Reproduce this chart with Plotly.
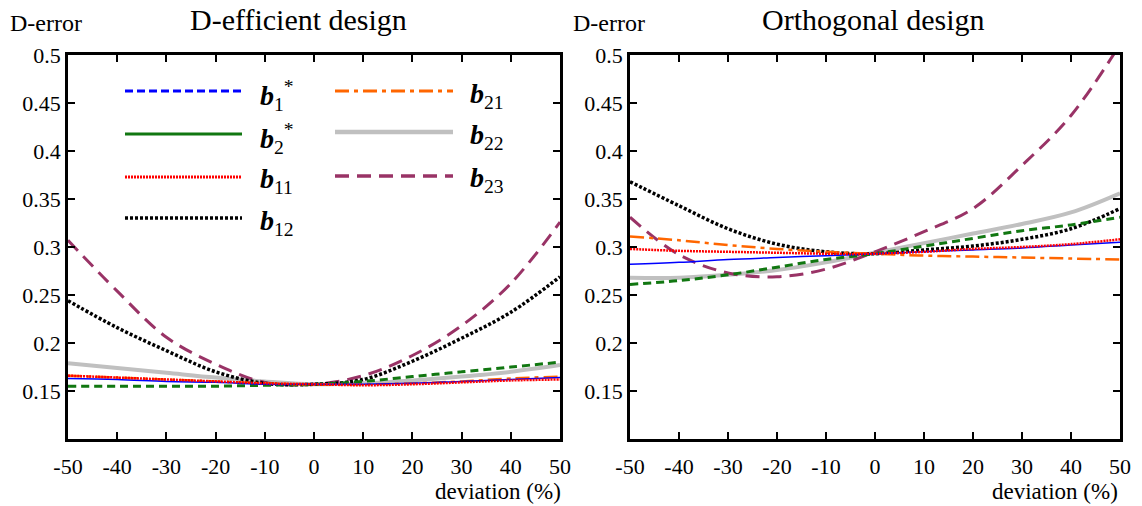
import plotly.graph_objects as go

W, H = 1142, 506

deviation = [-50, -40, -30, -20, -10, 0, 10, 20, 30, 40, 50]

# D-efficient design
deff_b1s = [0.163, 0.162, 0.160, 0.159, 0.157, 0.157, 0.157, 0.158, 0.160, 0.162, 0.164]
deff_b2s = [0.155, 0.155, 0.155, 0.155, 0.156, 0.157, 0.160, 0.165, 0.170, 0.175, 0.180]
deff_b11 = [0.166, 0.164, 0.162, 0.160, 0.158, 0.157, 0.156, 0.157, 0.159, 0.161, 0.162]
deff_b12 = [0.244, 0.216, 0.192, 0.170, 0.158, 0.157, 0.162, 0.181, 0.205, 0.232, 0.269]
deff_b21 = [0.166, 0.164, 0.162, 0.160, 0.158, 0.157, 0.157, 0.158, 0.160, 0.163, 0.165]
deff_b22 = [0.179, 0.174, 0.169, 0.164, 0.160, 0.157, 0.158, 0.161, 0.165, 0.170, 0.177]
deff_b23 = [0.307, 0.254, 0.206, 0.178, 0.159, 0.157, 0.166, 0.187, 0.218, 0.262, 0.326]

# Orthogonal design
orth_b1s = [0.282, 0.284, 0.287, 0.289, 0.291, 0.293, 0.295, 0.297, 0.299, 0.302, 0.305]
orth_b2s = [0.261, 0.265, 0.271, 0.279, 0.287, 0.293, 0.301, 0.309, 0.317, 0.323, 0.331]
orth_b11 = [0.298, 0.296, 0.295, 0.294, 0.293, 0.293, 0.295, 0.298, 0.300, 0.303, 0.308]
orth_b12 = [0.368, 0.343, 0.319, 0.303, 0.295, 0.293, 0.297, 0.301, 0.308, 0.319, 0.340]
orth_b21 = [0.311, 0.307, 0.302, 0.298, 0.295, 0.293, 0.291, 0.290, 0.289, 0.288, 0.287]
orth_b22 = [0.268, 0.268, 0.271, 0.276, 0.284, 0.294, 0.304, 0.314, 0.324, 0.336, 0.356]
orth_b23 = [0.331, 0.292, 0.273, 0.269, 0.277, 0.295, 0.316, 0.340, 0.385, 0.437, 0.511]

series_labels = {
    "b1s": "<b><i>b</i></b><sub>1</sub><sup>*</sup>",
    "b2s": "<b><i>b</i></b><sub>2</sub><sup>*</sup>",
    "b11": "<b><i>b</i></b><sub>11</sub>",
    "b12": "<b><i>b</i></b><sub>12</sub>",
    "b21": "<b><i>b</i></b><sub>21</sub>",
    "b22": "<b><i>b</i></b><sub>22</sub>",
    "b23": "<b><i>b</i></b><sub>23</sub>",
}
deff = {"b1s": deff_b1s, "b2s": deff_b2s, "b11": deff_b11, "b12": deff_b12,
        "b21": deff_b21, "b22": deff_b22, "b23": deff_b23}
orth = {"b1s": orth_b1s, "b2s": orth_b2s, "b11": orth_b11, "b12": orth_b12,
        "b21": orth_b21, "b22": orth_b22, "b23": orth_b23}

colors = {"b1s": "#0000FF", "b2s": "#117711", "b11": "#FF0000", "b12": "#000000",
          "b21": "#FF6600", "b22": "#C0C0C0", "b23": "#993366"}
plot_style = {
    "b1s": dict(width=1.5, dash="solid"),
    "b2s": dict(width=3, dash="8px,5px"),
    "b11": dict(width=2.5, dash="2px,1px"),
    "b12": dict(width=3.5, dash="3px,2px"),
    "b21": dict(width=2.5, dash="14px,5px,4px,5px"),
    "b22": dict(width=4, dash="solid"),
    "b23": dict(width=3, dash="14px,8px"),
}
legend_style = {
    "b1s": dict(width=3, dash="8px,4px"),
    "b2s": dict(width=3, dash="solid"),
    "b11": dict(width=3, dash="2px,1px"),
    "b12": dict(width=3.5, dash="3px,2px"),
    "b21": dict(width=3, dash="14px,5px,4px,5px"),
    "b22": dict(width=4.5, dash="solid"),
    "b23": dict(width=3.5, dash="14px,8px"),
}
draw_order = ["b22", "b23", "b12", "b2s", "b21", "b1s", "b11"]

fig = go.Figure()
for panel, data in (("", deff), ("2", orth)):
    for k in draw_order:
        fig.add_trace(go.Scatter(
            x=deviation, y=data[k], mode="lines", line_shape="spline",
            line=dict(color=colors[k], **plot_style[k]), showlegend=False,
            xaxis="x" + panel, yaxis="y" + panel, cliponaxis=True))

font_family = "Liberation Serif"
yticks = [0.15, 0.2, 0.25, 0.3, 0.35, 0.4, 0.45, 0.5]
ytext = ["0.15", "0.2", "0.25", "0.3", "0.35", "0.4", "0.45", "0.5"]
xticks = deviation

ydom = [1 - 439 / H, 1 - 55 / H]
xdom1 = [68 / W, 560 / W]
xdom2 = [630 / W, 1120 / W]

def xaxis(dom, anchor):
    return dict(domain=dom, anchor=anchor, range=[-50, 50], tickvals=xticks,
                ticktext=[str(v) for v in xticks], ticks="inside", ticklen=7,
                tickwidth=1.5, tickcolor="black", showline=True, linewidth=2.5,
                linecolor="black", mirror="ticks", showgrid=False, zeroline=False,
                tickfont=dict(family=font_family, size=22, color="black"),
                ticklabelstandoff=6, automargin=False)

def yaxis(dom, anchor):
    return dict(domain=dom, anchor=anchor, range=[0.1, 0.5], tickvals=yticks,
                ticktext=ytext, ticks="inside", ticklen=7, tickwidth=1.5,
                tickcolor="black", showline=True, linewidth=2.5, linecolor="black",
                mirror="ticks", showgrid=False, zeroline=False,
                tickfont=dict(family=font_family, size=22, color="black"),
                automargin=False)

annotations = []
def add_text(px, py, text, size, xanchor="center", yanchor="middle"):
    annotations.append(dict(x=px / W, y=1 - py / H, xref="paper", yref="paper",
                            text=text, showarrow=False, xanchor=xanchor,
                            yanchor=yanchor,
                            font=dict(family=font_family, size=size, color="black")))

add_text(298, 19, "D-efficient design", 30)
add_text(873, 19, "Orthogonal design", 30)
add_text(8, 23, "D-error", 24, xanchor="left")
add_text(571, 23, "D-error", 24, xanchor="left")
add_text(563, 491, "deviation (%)", 23, xanchor="right")
add_text(1120, 491, "deviation (%)", 23, xanchor="right")

# custom legend (inside left panel)
shapes = []
legend_cols = [(["b1s", "b2s", "b11", "b12"], 125, 242, 258, [91, 134, 177, 218]),
               (["b21", "b22", "b23"], 335, 453, 468, [91, 132, 176])]
for keys, x0, x1, xl, rows in legend_cols:
    for k, ry in zip(keys, rows):
        shapes.append(dict(type="line", xref="paper", yref="paper",
                           x0=x0 / W, x1=x1 / W, y0=1 - ry / H, y1=1 - ry / H,
                           line=dict(color=colors[k], **legend_style[k])))
        add_text(xl, ry + 4, series_labels[k], 28, xanchor="left")

fig.update_layout(
    width=W, height=H, margin=dict(l=0, r=0, t=0, b=0),
    paper_bgcolor="white", plot_bgcolor="white",
    xaxis=xaxis(xdom1, "y"), yaxis=yaxis(ydom, "x"),
    xaxis2=xaxis(xdom2, "y2"), yaxis2=yaxis(ydom, "x2"),
    annotations=annotations, shapes=shapes, showlegend=False,
)

fig.write_html("out.html", config={"displayModeBar": False},
               post_script="document.body.style.margin='0';document.body.style.padding='0';")
